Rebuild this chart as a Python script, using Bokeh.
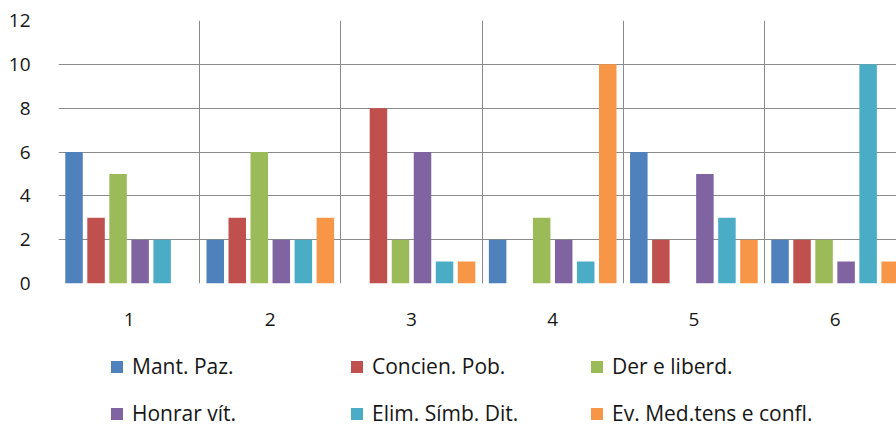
from bokeh.plotting import figure
from bokeh.layouts import column
from bokeh.models import (ColumnDataSource, Range1d, FixedTicker, Legend, LegendItem)
from bokeh.transform import dodge
from bokeh.embed import file_html
from bokeh.resources import INLINE

# ---- data ----
categories = [1, 2, 3, 4, 5, 6]
series_names = ["Mant. Paz.", "Concien. Pob.", "Der e liberd.",
                "Honrar vít.", "Elim. Símb. Dit.", "Ev. Med.tens e confl."]
mant_paz = [6, 2, 0, 2, 6, 2]
concien_pob = [3, 3, 8, 0, 2, 2]
der_liberd = [5, 6, 2, 3, 0, 2]
honrar_vit = [2, 2, 6, 2, 5, 1]
elim_simb = [2, 2, 1, 1, 3, 10]
ev_med = [0, 3, 1, 10, 2, 1]
y_ticks = [0, 2, 4, 6, 8, 10, 12]

colors = ["#4F81BD", "#C0504D", "#9BBB59", "#8064A2", "#4BACC6", "#F79646"]

FONT = "Open Sans"
TEXT_COLOR = "#161616"
GRID_COLOR = "#8a8a8a"

# ---- chart ----
p = figure(width=896, height=345, output_backend="svg", toolbar_location=None,
           x_range=Range1d(0.5, 6.435), y_range=Range1d(0, 12),
           min_border_left=58, min_border_right=0, min_border_top=20,
           min_border_bottom=62)
p.outline_line_color = None
p.background_fill_color = "white"
p.border_fill_color = "white"

src = ColumnDataSource(dict(x=categories,
                            s0=mant_paz, s1=concien_pob, s2=der_liberd,
                            s3=honrar_vit, s4=elim_simb, s5=ev_med))

step = 0.156
bar_w = 0.124
for i, col in enumerate(colors):
    off = (i - 2.5) * step
    p.vbar(x=dodge("x", off, range=p.x_range), top=f"s{i}", width=bar_w,
           source=src, fill_color=col, line_color=None)

p.xaxis.ticker = FixedTicker(ticks=categories)
p.yaxis.ticker = FixedTicker(ticks=y_ticks)
for ax in (p.xaxis, p.yaxis):
    ax.axis_line_color = None
    ax.major_tick_line_color = None
    ax.minor_tick_line_color = None
    ax.major_label_text_font = FONT
    ax.major_label_text_font_size = "19px"
    ax.major_label_text_color = TEXT_COLOR
p.xaxis.major_label_standoff = 23
p.yaxis.major_label_standoff = 22

p.ygrid.ticker = FixedTicker(ticks=y_ticks)
p.ygrid.grid_line_color = GRID_COLOR
p.ygrid.grid_line_width = 1
p.xgrid.ticker = FixedTicker(ticks=[c - 0.5 for c in categories] + [6.5])
p.xgrid.grid_line_color = GRID_COLOR
p.xgrid.grid_line_width = 1

# ---- legend strip ----
lg = figure(width=896, height=83, output_backend="svg", toolbar_location=None,
            x_range=Range1d(0, 1), y_range=Range1d(0, 1),
            x_axis_location=None, y_axis_location=None,
            min_border_left=0, min_border_right=0, min_border_top=0,
            min_border_bottom=0)
lg.outline_line_color = None
lg.grid.visible = False
lg.background_fill_color = "white"
lg.border_fill_color = "white"

# swatch-only renderers, placed outside the visible range
renderers = [lg.vbar(x=[5], top=[0], width=0.1, fill_color=c, line_color=None)
             for c in colors]
items = [LegendItem(label=n, renderers=[r]) for n, r in zip(series_names, renderers)]
legend = Legend(items=items, orientation="horizontal", ncols=3,
                location=(51, 1), padding=0, margin=0,
                border_line_color=None, background_fill_alpha=0,
                glyph_width=15, glyph_height=15, label_standoff=8,
                label_width=198, label_height=25, spacing=19,
                label_text_font=FONT, label_text_font_size="21px",
                label_text_color=TEXT_COLOR)
lg.add_layout(legend, "center")

layout = column(p, lg, spacing=0)
open("out.html", "w").write(file_html(layout, INLINE))
